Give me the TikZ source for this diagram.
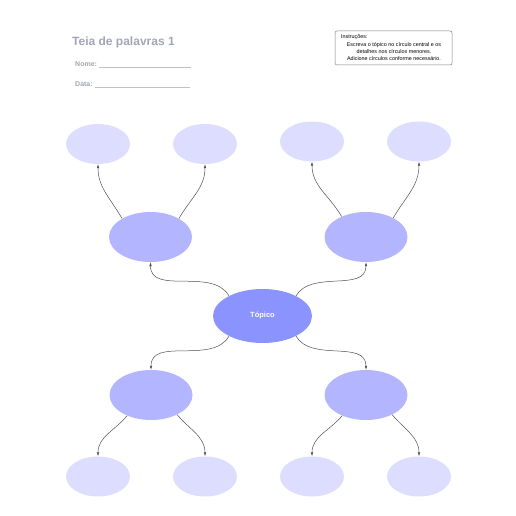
\documentclass[tikz,border=0pt]{standalone}
\usepackage{fontspec}
\setmainfont{Liberation Sans}
\usetikzlibrary{shapes.geometric,arrows.meta}
\definecolor{leafblue}{HTML}{DDDEFF}
\definecolor{midblue}{HTML}{B3B6FF}
\definecolor{topicblue}{HTML}{8B93FF}
\definecolor{titlegray}{HTML}{A2A5B5}
\definecolor{linkgray}{HTML}{505050}
\tikzset{>={Latex[length=4pt,width=2.6pt]}}
\tikzset{leaf/.style={ellipse, fill=leafblue, minimum width=64pt, minimum height=40pt, inner sep=0pt}}
\tikzset{branch/.style={ellipse, fill=midblue, minimum width=83pt, minimum height=50pt, inner sep=0pt}}
\tikzset{link/.style={->, draw=linkgray, line width=0.5pt}}

\begin{document}
\begin{tikzpicture}[x=1pt,y=-1pt]
      \useasboundingbox (0,0) rectangle (516,516);
      % heading
      \node[anchor=west, text=titlegray, font=\bfseries\fontsize{12}{14}\selectfont, inner sep=0pt] (title) at (72,42) {Teia de palavras 1};
      \node[anchor=west, text=titlegray, font=\bfseries\fontsize{7}{8}\selectfont, inner sep=0pt] (name) at (75,64) {Nome:};
      \node[anchor=west, text=titlegray, font=\bfseries\fontsize{7}{8}\selectfont, inner sep=0pt] (date) at (75,84) {Data:};
      \coordinate (nameend) at (191,67);
      \coordinate (dateend) at (190,87);
      \draw[titlegray!70, line width=0.5pt] (name.east |- nameend) ++(2,0) -- (nameend);
      \draw[titlegray!70, line width=0.5pt] (date.east |- dateend) ++(2,0) -- (dateend);
      % instructions
      \node[draw=gray, line width=0.5pt, rounded corners=2pt, minimum width=117pt, minimum height=34pt] (instr) at (393.5,48) {};
      \node[anchor=west, inner sep=0pt, font=\fontsize{5.4}{6.6}\selectfont] (instrhead) at (341,37.5) {Instruções:};
      \node[align=center, inner sep=0pt, font=\fontsize{5.4}{6.6}\selectfont] (instrbody) at (394,51.5) {Escreva o tópico no círculo central e os\\detalhes nos círculos menores.\\Adicione círculos conforme necessário.};
      % web
      \node[ellipse, fill=topicblue, minimum width=99pt, minimum height=54pt, inner sep=0pt, text=white, font=\bfseries\fontsize{7.5}{9}\selectfont] (topic) at (262.5,316) {Tópico};
      \node[branch] (upleft) at (150.5,237) {};
      \node[branch] (upright) at (366,237) {};
      \node[branch] (downleft) at (151,395) {};
      \node[branch] (downright) at (366,395) {};
      \node[leaf] (ul1) at (98,144) {};
      \node[leaf] (ul2) at (205,144) {};
      \node[leaf] (ur1) at (312,141.5) {};
      \node[leaf] (ur2) at (419,141.5) {};
      \node[leaf] (dl1) at (98,476.5) {};
      \node[leaf] (dl2) at (205,476.5) {};
      \node[leaf] (dr1) at (312,476.5) {};
      \node[leaf] (dr2) at (419,476.5) {};
      % connectors
      \draw[link] (topic.149) to[out=120, in=-90] (upleft.south);
      \draw[link] (topic.31) to[out=60, in=-90] (upright.south);
      \draw[link] (topic.211) to[out=240, in=90] (downleft.north);
      \draw[link] (topic.329) to[out=-60, in=90] (downright.north);
      \draw[link] (upleft.147) to[out=120, in=-90] (ul1.south);
      \draw[link] (upleft.33) to[out=60, in=-90] (ul2.south);
      \draw[link] (upright.140) to[out=120, in=-90] (ur1.south);
      \draw[link] (upright.35) to[out=60, in=-90] (ur2.south);
      \draw[link] (downleft.221) to[out=-130, in=90] (dl1.north);
      \draw[link] (downleft.323) to[out=-50, in=90] (dl2.north);
      \draw[link] (downright.221) to[out=-130, in=90] (dr1.north);
      \draw[link] (downright.323) to[out=-50, in=90] (dr2.north);
    \end{tikzpicture}
\end{document}
